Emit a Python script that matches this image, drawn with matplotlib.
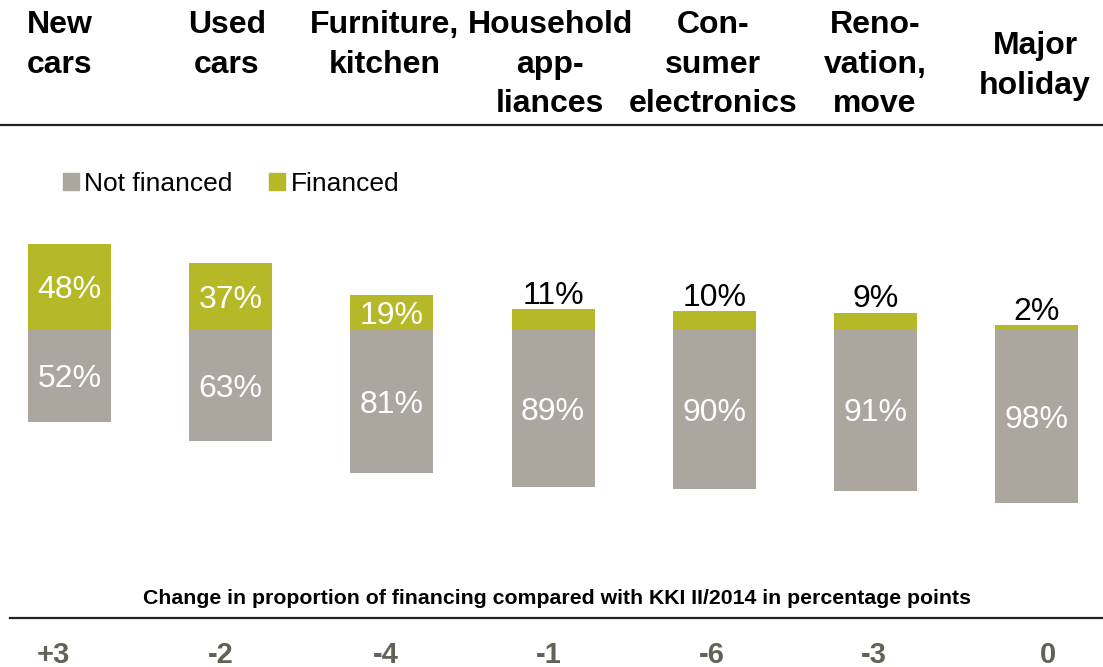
import matplotlib.pyplot as plt
from matplotlib.patches import Patch

plt.rcParams['font.family'] = ['Liberation Sans', 'DejaVu Sans']

categories = ['New\ncars', 'Used\ncars', 'Furniture,\nkitchen', 'Household\napp-\nliances',
              'Con-\nsumer\nelectronics', 'Reno-\nvation,\nmove', 'Major\nholiday']
financed = [48, 37, 19, 11, 10, 9, 2]
not_financed = [52, 63, 81, 89, 90, 91, 98]
change = ['+3', '-2', '-4', '-1', '-6', '-3', '0']

grey = '#aba69e'
green = '#b5b927'

W, H = 1103, 667
fig = plt.figure(figsize=(W / 100, H / 100), dpi=100)

# bars area: zero line sits at y=329px, 100% = 178px
top_px, bot_px = 200, 520
ax = fig.add_axes([0, 1 - bot_px / H, 1, (bot_px - top_px) / H])
scale = 1.78
ax.set_ylim(-(bot_px - 329) / scale, (329 - top_px) / scale)
x0, step = 69.5, 161.2
ax.set_xlim(-x0 / step, (W - x0) / step)
ax.axis('off')

x = range(len(categories))
ax.bar(x, financed, width=0.515, color=green)
ax.bar(x, [-v for v in not_financed], width=0.515, color=grey)

for i, (f, n) in enumerate(zip(financed, not_financed)):
    if f >= 15:
        ax.text(i, f / 2, f'{f}%', ha='center', va='center_baseline', color='white', fontsize=23)
    else:
        ax.annotate(f'{f}%', (i, f), xytext=(0, -1), textcoords='offset points',
                    ha='center', va='bottom', color='black', fontsize=23)
    ax.text(i, -n / 2, f'{n}%', ha='center', va='center_baseline', color='white', fontsize=23)

# column headers above the top rule (pixel x positions)
header_x = [60, 227, 385, 550, 713, 875, 1035]
for i, lab in enumerate(categories):
    if i == len(categories) - 1:
        fig.text(header_x[i] / W, 1 - 66 / H, lab, ha='center', va='center',
                 fontsize=23, fontweight='bold', linespacing=1.42)
    else:
        fig.text(header_x[i] / W, 1 - 10 / H, lab, ha='center', va='top',
                 fontsize=23, fontweight='bold', linespacing=1.42)

fig.add_artist(plt.Line2D([0, 1], [1 - 125 / H] * 2, color='#222222', lw=1.6))

handles = [Patch(color=grey, label='Not financed'), Patch(color=green, label='Financed')]
fig.legend(handles=handles, loc='center left', bbox_to_anchor=(63 / W, 1 - 184 / H),
           ncol=2, frameon=False, fontsize=19, handlelength=0.6, handleheight=0.6,
           handletextpad=0.2, columnspacing=1.4, borderaxespad=0, borderpad=0)

# change in financing share
fig.text(557 / W, 1 - 598 / H,
         'Change in proportion of financing compared with KKI II/2014 in percentage points',
         ha='center', va='center', fontsize=15.3, fontweight='bold')
fig.add_artist(plt.Line2D([10 / W, 1], [1 - 618 / H] * 2, color='#222222', lw=1.6))
change_x = [53, 221, 386, 549, 712, 874, 1048]
for cx, c in zip(change_x, change):
    fig.text(cx / W, 1 - 655 / H, c, ha='center', va='center',
             fontsize=21, fontweight='bold', color='#636256')

fig.savefig('out.png', dpi=100)
